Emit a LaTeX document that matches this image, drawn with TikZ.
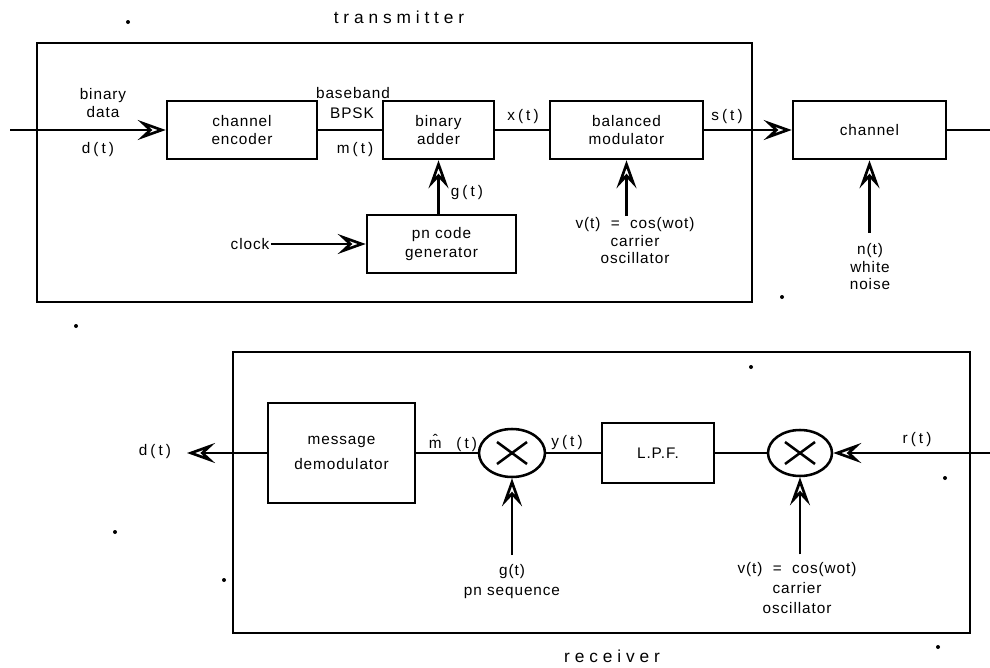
\documentclass[tikz,border=0pt]{standalone}
\usepackage{fontspec}
\setmainfont{Liberation Sans}
\newfontfamily\lbfont[LetterSpace=6]{Liberation Sans}
\newfontfamily\sgfont[LetterSpace=20]{Liberation Sans}
\newfontfamily\ttlfont[LetterSpace=28]{Liberation Sans}
\usetikzlibrary{arrows.meta,shapes.geometric}
\begin{document}
\begin{tikzpicture}[x=0.75pt,y=-0.75pt,
  box/.style={draw, line width=1.9pt, minimum height=43.5pt, inner sep=0pt, align=center,
              font=\lbfont\fontsize{11.5}{14}\selectfont},
  txt/.style={align=center, inner sep=1pt, font=\lbfont\fontsize{11.5}{13}\selectfont},
  txtb/.style={align=center, inner sep=1pt, font=\lbfont\fontsize{11.5}{15}\selectfont},
  sig/.style={inner sep=1pt, font=\sgfont\fontsize{11.5}{13}\selectfont},
  wire/.style={line width=1.6pt},
  arr/.style={wire, -{Stealth[open,length=21pt,width=15pt,inset=8pt,line width=2pt]}},
  frame/.style={line width=2pt},
  mult/.style={draw, ellipse, line width=1.9pt, inner sep=0pt},
  title/.style={font=\ttlfont\fontsize{13}{15}\selectfont},
  spot/.style={fill, circle, inner sep=0pt, minimum size=3pt}
]
\useasboundingbox (0,0) rectangle (990,668);

% ---------------- transmitter ----------------
\node[title] (tx) at (399,17) {transmitter};
\draw[frame] (37,43) rectangle (752,302);

\node[box, minimum width=112.5pt] (enc) at (242,130) {channel\\encoder};
\node[box, minimum width=83.25pt] (add) at (438.5,130) {binary\\adder};
\node[box, minimum width=114.75pt] (mod) at (626.5,130) {balanced\\modulator};
\node[box, minimum width=114.75pt] (chan) at (869.5,130) {channel};
\node[box, minimum width=111.75pt] (pn) at (441.5,244) {pn code\\generator};

\coordinate (tin) at (10,130);
\coordinate (tout) at (990,130);
\draw[arr] (tin) -- (enc);
\draw[wire] (enc) -- (add);
\draw[wire] (add) -- (mod);
\draw[arr] (mod) -- (chan);
\draw[wire] (chan) -- (tout);
\draw[arr] (pn.north -| add.south) -- (add.south);

\node[txt] (clk) at (250,244) {clock};
\draw[arr] (clk.east) -- (pn.west);

\node[txt, anchor=north] (osc) at (635,216) {v(t) \ = \ cos(wot)\\carrier\\oscillator};
\draw[arr] (mod.south |- osc.north) -- (mod.south);

\node[txt, anchor=north] (noise) at (870,242) {n(t)\\white\\noise};
\draw[arr] ([yshift=7pt]chan.south |- noise.north) -- (chan.south);

\node[txt] (bd) at (103,103) {binary\\data};
\node[sig] (dt) at (98,150) {d(t)};
\node[txt] (bb) at (353,93) {baseband};
\node[txt] (bpsk) at (352,113) {BPSK};
\node[sig] (mt) at (355,150) {m(t)};
\node[sig] (xt) at (523,117) {x(t)};
\node[sig] (st) at (727,117) {s(t)};
\node[sig] (gt) at (467,193) {g(t)};

% ---------------- receiver ----------------
\draw[frame] (233,352) rectangle (970,633);
\node[title] (rx) at (612,656) {receiver};

\node[box, minimum width=110.25pt, minimum height=75pt] (dem) at (341.5,453) {message\\[5pt]demodulator};
\node[mult, minimum width=49.5pt, minimum height=36pt] (m1) at (512,453) {};
\draw[line width=1.9pt] ([shift={(-15,-11)}]m1.center) -- ([shift={(15,11)}]m1.center)
                        ([shift={(-15,11)}]m1.center) -- ([shift={(15,-11)}]m1.center);
\node[box, minimum width=84pt, minimum height=45pt] (lpf) at (658,453) {L.P.F.};
\node[mult, minimum width=48pt, minimum height=34.5pt] (m2) at (800,453) {};
\draw[line width=1.9pt] ([shift={(-15,-11)}]m2.center) -- ([shift={(15,11)}]m2.center)
                        ([shift={(-15,11)}]m2.center) -- ([shift={(15,-11)}]m2.center);

\coordinate (rin) at (990,453);
\coordinate (dout) at (187,453);
\draw[arr] (rin) -- (m2);
\draw[wire] (m2) -- (lpf);
\draw[wire] (lpf) -- (m1);
\draw[wire] (m1) -- (dem);
\draw[arr] (dem) -- (dout);

\node[sig] (dt2) at (155,452) {d(t)};
\node[sig] (mh) at (453,443) {\^m\ \ (t)};
\node[sig] (yt) at (567,443) {y(t)};
\node[sig] (rt) at (917,440) {r(t)};

\node[txtb, anchor=north] (pns) at (512,563) {g(t)\\pn sequence};
\draw[arr] ([yshift=6pt]m1.south |- pns.north) -- (m1.south);

\node[txtb, anchor=north] (osc2) at (797,561) {v(t) \ = \ cos(wot)\\carrier\\oscillator};
\draw[arr] ([yshift=5pt]m2.south |- osc2.north) -- (m2.south);

% stray specks of the original scan
\node[spot] (s1) at (128,22) {};
\node[spot] (s2) at (782,297) {};
\node[spot] (s3) at (76,326) {};
\node[spot] (s4) at (751,367) {};
\node[spot] (s5) at (945,478) {};
\node[spot] (s6) at (115,532) {};
\node[spot] (s7) at (224,580) {};
\node[spot] (s8) at (938,647) {};
\end{tikzpicture}
\end{document}
